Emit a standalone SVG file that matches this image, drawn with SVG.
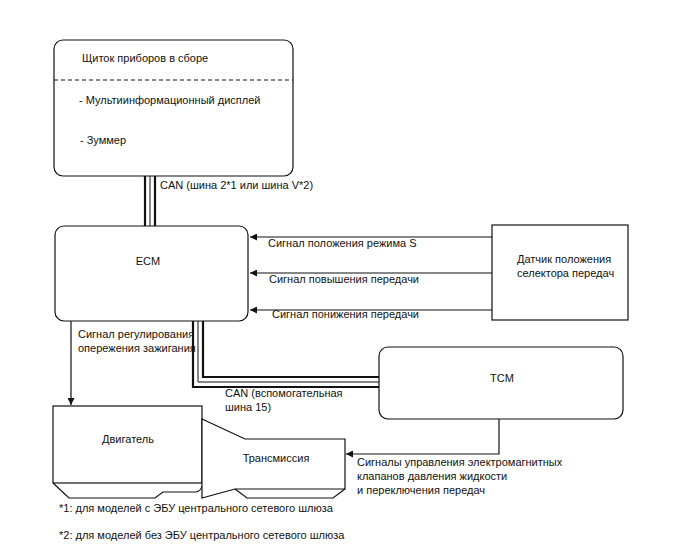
<svg xmlns="http://www.w3.org/2000/svg" width="688" height="560" viewBox="0 0 688 560">
<style>
text{font-family:"Liberation Sans",Arial,sans-serif;font-size:11px;fill:#111}
.box{fill:#fff;stroke:#111;stroke-width:1.2}
.ln{fill:none;stroke:#111;stroke-width:1.2}
.thk{fill:none;stroke:#111;stroke-width:2.2}
.thn{fill:none;stroke:#111;stroke-width:1}
.mid{text-anchor:middle}
</style>
<defs>
<marker id="ah" viewBox="0 0 10 10" refX="10" refY="5" markerWidth="9" markerHeight="7" markerUnits="userSpaceOnUse" orient="auto">
<path d="M0,0 L10,5 L0,10 Z" fill="#111"/>
</marker>
</defs>
<rect width="688" height="560" fill="#fff"/>

<g id="connectors">
<!-- CAN cluster-ECM -->
<line class="thk" x1="145" y1="176" x2="145" y2="226"/>
<line class="thn" x1="150" y1="176" x2="150" y2="226"/>
<line class="thk" x1="155" y1="176" x2="155" y2="226"/>
<!-- CAN ECM-TCM -->
<polyline class="thk" points="193,321 193,387 379,387"/>
<polyline class="thn" points="198,321 198,382 379,382"/>
<polyline class="thk" points="203,321 203,377 379,377"/>
<!-- selector signals -->
<line class="ln" x1="492" y1="237" x2="250" y2="237" marker-end="url(#ah)"/>
<line class="ln" x1="492" y1="273" x2="250" y2="273" marker-end="url(#ah)"/>
<line class="ln" x1="492" y1="310" x2="250" y2="310" marker-end="url(#ah)"/>
<!-- ignition -->
<line class="ln" x1="71" y1="321" x2="71" y2="405" marker-end="url(#ah)"/>
<!-- TCM solenoids -->
<polyline class="ln" points="499,419 499,454 346,454" marker-end="url(#ah)"/>
</g>

<g id="cluster">
<rect class="box" x="54" y="40" width="239" height="136" rx="9"/>
<line x1="54" y1="80" x2="293" y2="80" stroke="#111" stroke-width="1.2" stroke-dasharray="4,3"/>
<text x="82" y="62">Щиток приборов в сборе</text>
<text x="79" y="104">- Мультиинформационный дисплей</text>
<text x="80" y="144">- Зуммер</text>
</g>
<text x="160" y="189">CAN (шина 2*1 или шина V*2)</text>

<g id="ecm">
<rect class="box" x="55" y="226" width="193" height="95" rx="9"/>
<text class="mid" x="148" y="265">ECM</text>
</g>

<g id="sensor">
<rect class="box" x="492" y="225" width="136" height="95"/>
<text x="517" y="263">Датчик положения</text>
<text x="517" y="277">селектора передач</text>
</g>

<text x="268" y="247">Сигнал положения режима S</text>
<text x="269" y="283">Сигнал повышения передачи</text>
<text x="272" y="318">Сигнал понижения передачи</text>

<text x="78" y="338">Сигнал регулирования</text>
<text x="78" y="352">опережения зажигания</text>

<text x="225" y="397">CAN (вспомогательная</text>
<text x="225" y="411">шина 15)</text>

<g id="tcm">
<rect class="box" x="379" y="347" width="244" height="72" rx="9"/>
<text class="mid" x="502" y="382">TCM</text>
</g>

<text x="357" y="466">Сигналы управления электромагнитных</text>
<text x="357" y="480">клапанов давления жидкости</text>
<text x="357" y="494">и переключения передач</text>

<g id="engine">
<rect class="box" x="53" y="406" width="149" height="77"/>
<path class="ln" d="M53,483 L69,498 L155,498 L163,492 L196,492 Q201,491 202,486"/>
<text class="mid" x="128" y="443">Двигатель</text>
</g>

<g id="transmission">
<path class="box" d="M202,419 L245,439 L345,439 L345,489 L235,489 L202,498 Z"/>
<path class="ln" d="M235,489 L247,498 L333,498 L345,489"/>
<text class="mid" x="276" y="462">Трансмиссия</text>
</g>

<text x="59" y="512">*1: для моделей с ЭБУ центрального сетевого шлюза</text>
<text x="59" y="539">*2: для моделей без ЭБУ центрального сетевого шлюза</text>
</svg>
